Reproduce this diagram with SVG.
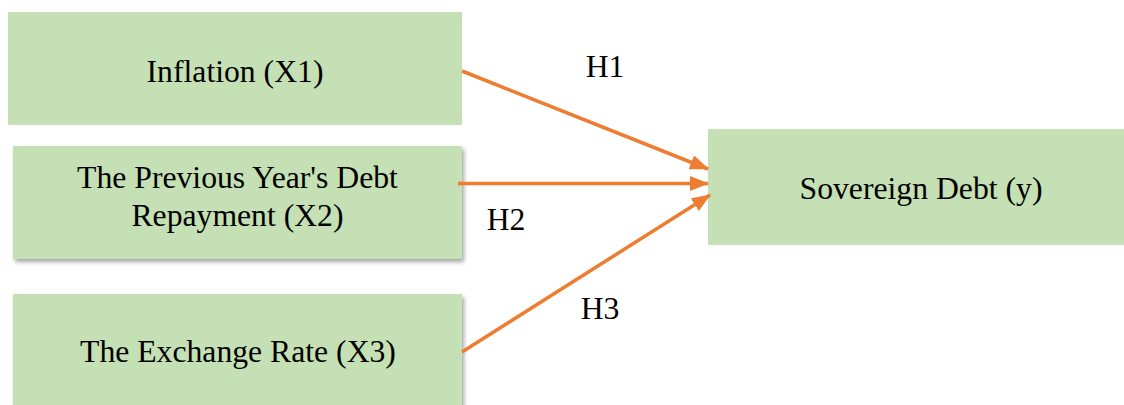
<svg xmlns="http://www.w3.org/2000/svg" width="1124" height="405" viewBox="0 0 1124 405">
  <style>
    .box { fill: #C5E0B4; }
    .lbl { font-family: "Liberation Serif", "Times New Roman", serif; font-size: 31.7px; fill: #000; text-anchor: middle; }
    .conn { stroke: #ED7D31; stroke-width: 3.5; fill: none; marker-end: url(#arr); }
  </style>
  <defs>
    <marker id="arr" markerUnits="userSpaceOnUse" markerWidth="20" markerHeight="16" refX="18" refY="7.5" orient="auto">
      <path d="M0,0 L19,7.5 L0,15 Z" fill="#ED7D31"/>
    </marker>
    <filter id="sh" x="-5%" y="-5%" width="115%" height="120%">
      <feDropShadow dx="2" dy="3" stdDeviation="2" flood-color="#000" flood-opacity="0.35"/>
    </filter>
  </defs>
  <rect width="1124" height="405" fill="#fff"/>
  <g id="node-x1">
    <rect class="box" x="8" y="12" width="454" height="113"/>
    <text class="lbl" x="235" y="82">Inflation (X1)</text>
  </g>
  <g id="node-x2">
    <rect class="box" x="13" y="146" width="449" height="113" filter="url(#sh)"/>
    <text class="lbl" x="237.5" y="188">The Previous Year's Debt</text>
    <text class="lbl" x="237.5" y="226">Repayment (X2)</text>
  </g>
  <g id="node-x3">
    <rect class="box" x="13" y="294" width="449" height="120" filter="url(#sh)"/>
    <text class="lbl" x="238" y="362">The Exchange Rate (X3)</text>
  </g>
  <g id="node-y">
    <rect class="box" x="708" y="129" width="420" height="116"/>
    <text class="lbl" x="921" y="199">Sovereign Debt (y)</text>
  </g>
  <g id="connectors">
    <line class="conn" x1="462" y1="71" x2="708" y2="169"/>
    <line class="conn" x1="458" y1="183.5" x2="708" y2="183.5"/>
    <line class="conn" x1="462" y1="352" x2="710" y2="195"/>
  </g>
  <g id="edge-labels">
    <text class="lbl" x="605" y="77">H1</text>
    <text class="lbl" x="506" y="230">H2</text>
    <text class="lbl" x="600" y="319">H3</text>
  </g>
</svg>
